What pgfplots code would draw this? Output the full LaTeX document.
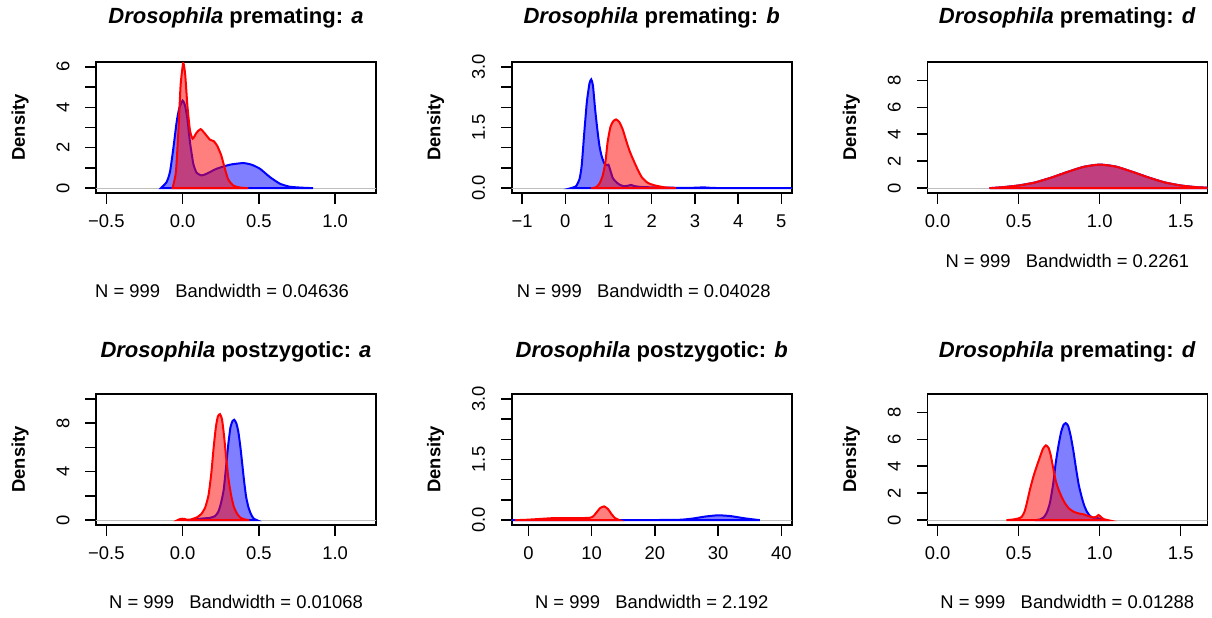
\documentclass[border=0pt]{standalone}
\usepackage{fontspec}
\setmainfont{Liberation Sans}
\usepackage{pgfplots}
\pgfplotsset{compat=1.18}
\definecolor{rgray}{RGB}{190,190,190}
\pgfplotsset{
  rpanel/.style={
    scale only axis, width=140pt, height=65.5pt, anchor=south west,
    axis line style={line width=0.8pt},
    every tick/.style={black, line width=0.75pt},
    tick align=outside, major tick length=5.25pt,
    tick pos=left,
    /pgf/number format/assume math mode=true,
    tick label style={font=\fontsize{9.2}{11}\selectfont},
    yticklabel style={rotate=90, anchor=south},
    xticklabel shift=2pt, yticklabel shift=4.5pt,
    ylabel={\bfseries Density},
    every axis y label/.style={at={([xshift=-38pt]axis description cs:0,0.5)}, rotate=90, anchor=center, font=\fontsize{9.2}{11}\selectfont},
    every axis title/.style={at={([yshift=22pt]axis description cs:0.5,1)}, anchor=center, font=\fontsize{11}{13}\selectfont\bfseries},
    every axis x label/.style={at={([yshift=-38.5pt]axis description cs:0.5,0)}, anchor=center, font=\fontsize{9.2}{11}\selectfont},
  },
  bcurve/.style={draw=blue, line width=1pt, fill=blue, fill opacity=0.5, smooth, tension=0.35, mark=none},
  rcurve/.style={draw=red, line width=1pt, fill=red, fill opacity=0.5, smooth, tension=0.35, mark=none},
  zline/.style={draw=rgray, line width=0.6pt, mark=none},
}
\begin{document}
\begin{tikzpicture}
\path[use as bounding box] (0,0) rectangle (606pt,308.5pt);

% Panel 1
\begin{axis}[rpanel, at={(48pt,212pt)},
  xmin=-0.568, xmax=1.268, ymin=-0.24, ymax=6.24,
  xtick={-0.5,0,0.5,1}, xticklabels={−0.5,0.0,0.5,1.0},
  ytick={0,1,2,3,4,5,6}, yticklabels={0,,2,,4,,6},
  title={\textit{Drosophila} premating: \textit{a}},
  xlabel={N = 999\ \ \ Bandwidth = 0.04636},
  every axis x label/.append style={at={([xshift=-7pt,yshift=-49pt]axis description cs:0.5,0)}}]
\addplot[zline] coordinates {(-1,0) (2,0)};
\addplot[bcurve] coordinates {(-0.142,0) (-0.105,0.30) (-0.083,0.80) (-0.061,1.96) (-0.039,3.28) (-0.022,3.95) (0.0,4.33) (0.015,4.11) (0.031,3.45) (0.048,2.29) (0.070,1.21) (0.092,0.76) (0.124,0.63) (0.157,0.71) (0.223,0.96) (0.310,1.16) (0.397,1.24) (0.452,1.16) (0.507,0.96) (0.572,0.55) (0.638,0.22) (0.703,0.07) (0.790,0.02) (0.856,0)} \closedcycle;
\addplot[rcurve] coordinates {(-0.066,0) (-0.044,0.80) (-0.028,2.79) (-0.013,5.11) (0.004,6.19) (0.017,5.61) (0.031,4.11) (0.048,2.87) (0.066,2.45) (0.092,2.75) (0.118,2.92) (0.146,2.70) (0.179,2.40) (0.205,2.32) (0.227,2.09) (0.253,1.63) (0.277,0.96) (0.299,0.43) (0.332,0.13) (0.376,0.03) (0.430,0)} \closedcycle;
\end{axis}

% Panel 2
\begin{axis}[rpanel, at={(255.85pt,212pt)},
  xmin=-1.24, xmax=5.24, ymin=-0.12, ymax=3.12,
  xtick={-1,0,1,2,3,4,5}, xticklabels={−1,0,1,2,3,4,5},
  ytick={0,0.5,1,1.5,2,2.5,3}, yticklabels={0.0,,,1.5,,,3.0},
  title={\textit{Drosophila} premating: \textit{b}},
  xlabel={N = 999\ \ \ Bandwidth = 0.04028},
  every axis x label/.append style={at={([xshift=-4pt,yshift=-49pt]axis description cs:0.5,0)}}]
\addplot[zline] coordinates {(-2,0) (6,0)};
\addplot[bcurve] coordinates {(0.13,0) (0.25,0.05) (0.33,0.23) (0.38,0.56) (0.44,1.38) (0.50,2.14) (0.56,2.59) (0.60,2.69) (0.64,2.54) (0.69,1.96) (0.74,1.47) (0.79,1.05) (0.84,0.80) (0.90,0.62) (0.96,0.57) (1.00,0.58) (1.04,0.45) (1.10,0.25) (1.17,0.16) (1.25,0.09) (1.35,0.05) (1.45,0.06) (1.52,0.08) (1.60,0.05) (1.75,0.03) (2.0,0.02) (2.5,0.01) (3.0,0.01) (3.2,0.02) (3.4,0.005) (4.0,0) (5.5,0)} \closedcycle;
\addplot[rcurve] coordinates {(0.596,0) (0.71,0.02) (0.79,0.11) (0.866,0.31) (0.928,0.64) (0.98,1.14) (1.044,1.51) (1.106,1.65) (1.176,1.70) (1.253,1.63) (1.33,1.45) (1.408,1.18) (1.485,0.93) (1.562,0.73) (1.663,0.49) (1.771,0.27) (1.91,0.13) (2.065,0.07) (2.30,0.02) (2.56,0)} \closedcycle;
\end{axis}

% Panel 3
\begin{axis}[rpanel, at={(463.65pt,212pt)},
  xmin=-0.064, xmax=1.664, ymin=-0.36, ymax=9.36,
  xtick={0,0.5,1,1.5}, xticklabels={0.0,0.5,1.0,1.5},
  ytick={0,2,4,6,8}, yticklabels={0,2,4,6,8},
  title={\textit{Drosophila} premating: \textit{d}},
  xlabel={N = 999\ \ \ Bandwidth = 0.2261},
  every axis x label/.append style={at={([yshift=-34pt]axis description cs:0.5,0)}}]
\addplot[zline] coordinates {(-1,0) (2,0)};
\addplot[bcurve] coordinates {(0.32,0) (0.4,0.07) (0.5,0.2) (0.6,0.42) (0.7,0.78) (0.8,1.2) (0.9,1.58) (1.0,1.75) (1.1,1.6) (1.2,1.22) (1.3,0.8) (1.4,0.43) (1.5,0.2) (1.6,0.07) (1.7,0.02) (1.75,0)} \closedcycle;
\addplot[rcurve] coordinates {(0.32,0) (0.4,0.07) (0.5,0.2) (0.6,0.42) (0.7,0.78) (0.8,1.2) (0.9,1.58) (1.0,1.75) (1.1,1.6) (1.2,1.22) (1.3,0.8) (1.4,0.43) (1.5,0.2) (1.6,0.07) (1.7,0.02) (1.75,0)} \closedcycle;
\end{axis}

% Panel 4
\begin{axis}[rpanel, at={(48pt,46pt)},
  xmin=-0.568, xmax=1.268, ymin=-0.4, ymax=10.4,
  xtick={-0.5,0,0.5,1}, xticklabels={−0.5,0.0,0.5,1.0},
  ytick={0,2,4,6,8,10}, yticklabels={0,,4,,8,},
  title={\textit{Drosophila} postzygotic: \textit{a}},
  every axis title/.append style={at={([yshift=21pt]axis description cs:0.5,1)}},
  xlabel={N = 999\ \ \ Bandwidth = 0.01068}]
\addplot[zline] coordinates {(-1,0) (2,0)};
\addplot[bcurve] coordinates {(0.070,0) (0.092,0.08) (0.135,0.14) (0.179,0.19) (0.212,0.33) (0.234,0.69) (0.251,1.38) (0.269,2.48) (0.284,4.28) (0.299,6.21) (0.314,7.67) (0.328,8.19) (0.338,8.28) (0.352,8.0) (0.365,7.31) (0.378,6.12) (0.391,4.63) (0.404,3.12) (0.417,1.88) (0.432,1.05) (0.448,0.50) (0.465,0.14) (0.487,0)} \closedcycle;
\addplot[rcurve] coordinates {(-0.033,0) (-0.013,0.11) (0.009,0.11) (0.031,0.03) (0.055,0.06) (0.074,0.14) (0.096,0.25) (0.122,0.50) (0.148,1.05) (0.170,2.07) (0.188,3.86) (0.203,5.93) (0.218,7.67) (0.231,8.55) (0.245,8.74) (0.258,8.33) (0.271,7.03) (0.286,5.10) (0.301,3.37) (0.319,1.99) (0.336,1.10) (0.356,0.55) (0.380,0.19) (0.408,0.06) (0.437,0)} \closedcycle;
\end{axis}

% Panel 5
\begin{axis}[rpanel, at={(255.85pt,46pt)},
  xmin=-2.64, xmax=41.64, ymin=-0.12, ymax=3.12,
  xtick={0,10,20,30,40}, xticklabels={0,10,20,30,40},
  ytick={0,0.5,1,1.5,2,2.5,3}, yticklabels={0.0,,,1.5,,,3.0},
  title={\textit{Drosophila} postzygotic: \textit{b}},
  every axis title/.append style={at={([yshift=21pt]axis description cs:0.5,1)}},
  xlabel={N = 999\ \ \ Bandwidth = 2.192}]
\addplot[zline] coordinates {(-5,0) (45,0)};
\addplot[bcurve] coordinates {(-2.7,0) (0,0.003) (5,0.003) (10,0.003) (15,0.002) (20,0.003) (24,0.01) (26,0.04) (28,0.09) (30,0.12) (32,0.10) (34,0.05) (35.5,0.02) (36.6,0)} \closedcycle;
\addplot[rcurve] coordinates {(-2.1,0) (-0.26,0.01) (1.85,0.03) (3.96,0.05) (6.07,0.05) (8.18,0.05) (9.76,0.06) (10.29,0.10) (10.82,0.20) (11.35,0.30) (11.98,0.34) (12.61,0.27) (13.14,0.15) (13.72,0.05) (14.41,0)} \closedcycle;
\end{axis}

% Panel 6
\begin{axis}[rpanel, at={(463.65pt,46pt)},
  xmin=-0.064, xmax=1.664, ymin=-0.36, ymax=9.36,
  xtick={0,0.5,1,1.5}, xticklabels={0.0,0.5,1.0,1.5},
  ytick={0,2,4,6,8}, yticklabels={0,2,4,6,8},
  title={\textit{Drosophila} premating: \textit{d}},
  every axis title/.append style={at={([yshift=21pt]axis description cs:0.5,1)}},
  xlabel={N = 999\ \ \ Bandwidth = 0.01288}]
\addplot[zline] coordinates {(-1,0) (2,0)};
\addplot[bcurve] coordinates {(0.600,0) (0.631,0.05) (0.656,0.23) (0.675,0.60) (0.693,1.30) (0.712,2.63) (0.728,4.20) (0.745,5.50) (0.761,6.50) (0.776,7.05) (0.790,7.20) (0.805,7.00) (0.821,6.25) (0.838,5.10) (0.855,3.75) (0.871,2.60) (0.888,1.75) (0.904,1.10) (0.921,0.63) (0.941,0.30) (0.962,0.18) (0.983,0.18) (1.003,0.08) (1.024,0)} \closedcycle;
\addplot[rcurve] coordinates {(0.424,0) (0.466,0.05) (0.499,0.13) (0.519,0.25) (0.536,0.63) (0.550,1.25) (0.569,2.25) (0.590,3.20) (0.610,3.95) (0.631,4.68) (0.650,5.30) (0.668,5.55) (0.685,5.35) (0.699,4.75) (0.714,3.80) (0.728,2.95) (0.745,2.30) (0.766,1.70) (0.786,1.25) (0.809,0.88) (0.838,0.63) (0.869,0.50) (0.900,0.43) (0.931,0.30) (0.962,0.20) (0.979,0.25) (0.993,0.38) (1.008,0.23) (1.024,0.08) (1.051,0)} \closedcycle;
\end{axis}
\end{tikzpicture}
\end{document}
